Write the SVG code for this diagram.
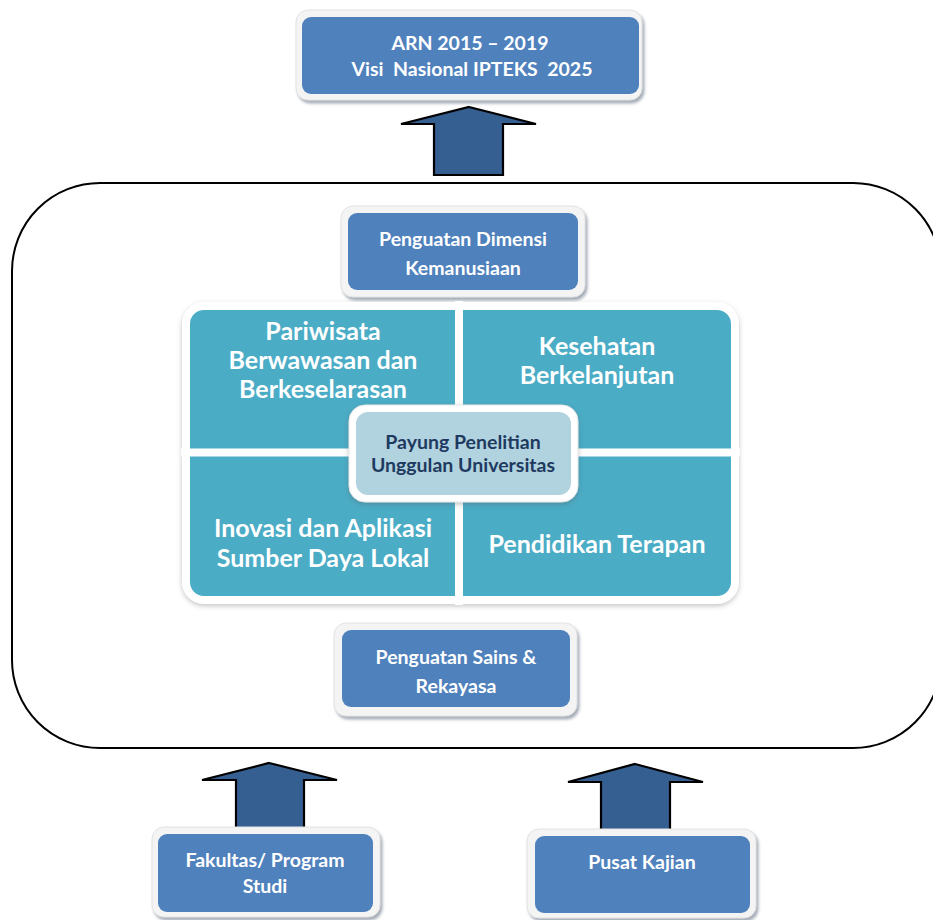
<svg xmlns="http://www.w3.org/2000/svg" width="933" height="920" viewBox="0 0 933 920">
<defs>
<filter id="sh" x="-10%" y="-10%" width="125%" height="130%">
<feDropShadow dx="2" dy="3" stdDeviation="1.5" flood-color="#7f8a9a" flood-opacity="0.7"/>
</filter>
<filter id="sh2" x="-10%" y="-10%" width="120%" height="120%">
<feDropShadow dx="0" dy="2" stdDeviation="2.5" flood-color="#555" flood-opacity="0.35"/>
</filter>
</defs>
<style>
.frame{fill:#f4f4f4;stroke:#e2e2e2;stroke-width:1}
.blue{fill:#4f81bd}
.arrow{fill:#365f91;stroke:#000;stroke-width:2.2;stroke-linejoin:miter}
.t{font-family:Lato,"Open Sans","Liberation Sans",sans-serif;font-weight:bold;fill:#fff;text-anchor:middle}
.w{font-size:19.5px}
.b{font-size:19.5px}
.q{font-size:25px}
.c{font-size:19.5px;fill:#1f3a60}
</style>
<rect width="933" height="920" fill="#fff"/>
<rect id="frame-outer" x="12" y="183" width="929" height="565" rx="88" ry="88" fill="none" stroke="#000" stroke-width="2"/>
<g id="connectors">
<polygon class="arrow" points="469,107 536,124 503,124 503,175 434,175 434,124 401,124"/>
<polygon class="arrow" points="269,763 337,780 304,780 304,835 236,835 236,780 202,780"/>
<polygon class="arrow" points="635,764 703,782 670,782 670,837 601,837 601,782 568,782"/>
</g>
<g id="arn">
<rect class="frame" x="296" y="10" width="346" height="90" rx="12" filter="url(#sh)"/>
<rect class="blue" x="302" y="17" width="337" height="77" rx="9"/>
<text class="t w" x="470" y="50">ARN 2015 – 2019</text>
<text class="t w" x="472" y="76" xml:space="preserve">Visi  Nasional IPTEKS  2025</text>
</g>
<g id="dimensi">
<rect class="frame" x="341" y="206" width="244" height="91" rx="12" filter="url(#sh)"/>
<rect class="blue" x="348" y="213" width="230" height="77" rx="9"/>
<text class="t b" x="463" y="246">Penguatan Dimensi</text>
<text class="t b" x="463" y="275">Kemanusiaan</text>
</g>
<g id="matrix">
<rect x="186" y="306" width="549" height="294" rx="18" fill="#4bacc6" stroke="#fff" stroke-width="8" filter="url(#sh2)"/>
<line x1="459" y1="301" x2="459" y2="605" stroke="#fff" stroke-width="8"/>
<line x1="181" y1="452.5" x2="740" y2="452.5" stroke="#fff" stroke-width="8"/>
</g>
<g id="pariwisata">
<text class="t q" x="323" y="340">Pariwisata</text>
<text class="t q" x="323" y="369">Berwawasan dan</text>
<text class="t q" x="323" y="398">Berkeselarasan</text>
</g>
<g id="kesehatan">
<text class="t q" x="597" y="355">Kesehatan</text>
<text class="t q" x="597" y="384">Berkelanjutan</text>
</g>
<g id="inovasi">
<text class="t q" x="323" y="537">Inovasi dan Aplikasi</text>
<text class="t q" x="323" y="567">Sumber Daya Lokal</text>
</g>
<g id="pendidikan">
<text class="t q" x="597" y="553">Pendidikan Terapan</text>
</g>
<g id="payung">
<rect x="349" y="405" width="229" height="97" rx="16" fill="#fff" stroke="#e6e6e6" filter="url(#sh2)"/>
<rect x="356" y="412" width="215" height="83" rx="12" fill="#b1d3df"/>
<text class="t c" x="463" y="449">Payung Penelitian</text>
<text class="t c" x="463" y="472">Unggulan Universitas</text>
</g>
<g id="sains">
<rect class="frame" x="334" y="623" width="243" height="93" rx="12" filter="url(#sh)"/>
<rect class="blue" x="342" y="630" width="228" height="77" rx="9"/>
<text class="t b" x="456" y="664">Penguatan Sains &amp;</text>
<text class="t b" x="456" y="693">Rekayasa</text>
</g>
<g id="fakultas">
<rect class="frame" x="152" y="827" width="228" height="90" rx="12" filter="url(#sh)"/>
<rect class="blue" x="158" y="834" width="215" height="78" rx="9"/>
<text class="t b" x="265" y="867">Fakultas/ Program</text>
<text class="t b" x="265" y="893">Studi</text>
</g>
<g id="pusat">
<rect class="frame" x="527" y="829" width="229" height="89" rx="12" filter="url(#sh)"/>
<rect class="blue" x="535" y="836" width="215" height="77" rx="9"/>
<text class="t b" x="642" y="869">Pusat Kajian</text>
</g>
</svg>
